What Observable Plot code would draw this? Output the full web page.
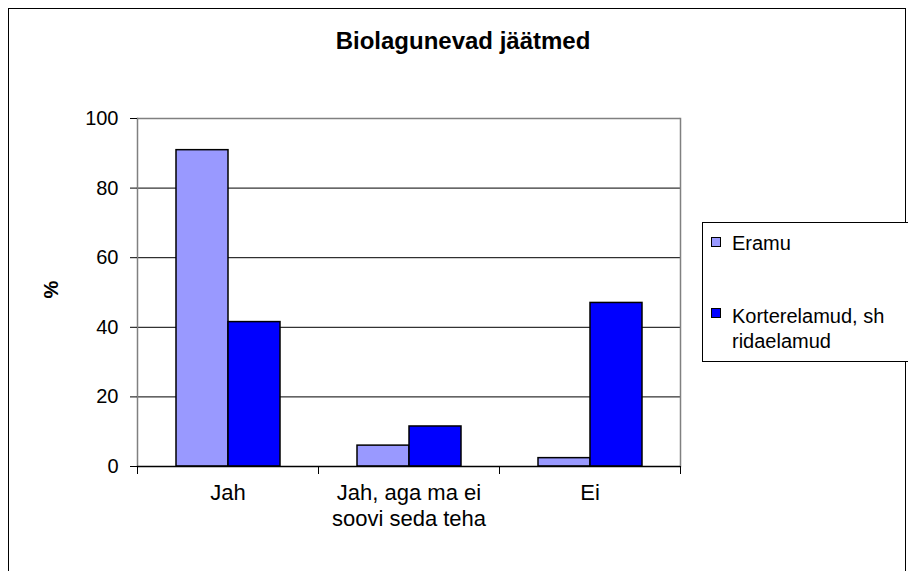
<!DOCTYPE html>
<html><head><meta charset="utf-8">
<script src="https://cdn.jsdelivr.net/npm/d3@7"></script>
<script src="https://cdn.jsdelivr.net/npm/@observablehq/plot@0.6"></script>
<style>
body{margin:0;background:#fff;font-family:"Liberation Sans",Arial,sans-serif;color:#000}
#wrap{position:relative;width:908px;height:571px;overflow:hidden;background:#fff}
#border{position:absolute;left:8px;top:8px;width:898px;height:600px;border:1px solid #000;box-sizing:border-box}
#title{position:absolute;left:463px;top:29px;transform:translateX(-50%);white-space:nowrap;font-weight:bold;font-size:24px;line-height:24px}
#chart{position:absolute;left:0;top:0}
#legend{position:absolute;left:702px;top:222px;width:230px;height:140px;border:1px solid #000;box-sizing:border-box;font-size:20px;background:#fff}
.sw{position:absolute;left:8px;width:10px;height:10px;border:1px solid #000;box-sizing:border-box}
.lt{position:absolute;left:29px;line-height:25px;white-space:nowrap}
</style>
</head><body>
<div id="wrap">
<div id="border"></div>
<div id="title">Biolagunevad jäätmed</div>
<div id="chart"></div>
<div id="legend"></div>
</div>
<script>
const categories = ["Jah", "Jah, aga ma ei soovi seda teha", "Ei"];
const categoryLabels = ["Jah", "Jah, aga ma ei\nsoovi seda teha", "Ei"];
const series = ["Eramu", "Korterelamud, sh ridaelamud"];
const seriesLabels = ["Eramu", "Korterelamud, sh<br>ridaelamud"];
const eramu = [90.9, 6.0, 2.4];
const korter = [41.5, 11.5, 47.0];
const yTicks = [0, 20, 40, 60, 80, 100];
const colors = ["#9999FF", "#0000FF"];

const data = categories.flatMap((c, i) => [
  {category: c, series: series[0], value: eramu[i]},
  {category: c, series: series[1], value: korter[i]}
]);

const chart = Plot.plot({
  width: 908, height: 571,
  marginLeft: 136, marginRight: 228, marginTop: 118, marginBottom: 105,
  style: {fontFamily: "Liberation Sans, Arial, sans-serif", fontSize: "20px", color: "#000", background: "transparent", overflow: "visible"},
  fx: {domain: categories, padding: 0, axis: null},
  x: {domain: series, paddingInner: 0, paddingOuter: 0.736, axis: null},
  y: {domain: [0, 100], axis: null},
  color: {domain: series, range: colors},
  marks: [
    Plot.ruleY(yTicks.slice(1, -1), {stroke: "#000", strokeOpacity: 1}),
    Plot.ruleY([100], {stroke: "#808080", strokeWidth: 1.5}),
    Plot.frame({anchor: "left", facetAnchor: "left", stroke: "#808080", strokeWidth: 1.5}),
    Plot.frame({anchor: "right", facetAnchor: "right", stroke: "#808080", strokeWidth: 1.5}),
    Plot.barY(data, {fx: "category", x: "series", y: "value", fill: "series", stroke: "#000", strokeWidth: 1.5}),
    Plot.ruleY([0], {stroke: "#000", strokeWidth: 1.5}),
    Plot.frame({anchor: "left", insetTop: 348, insetBottom: -7, stroke: "#000"}),
    Plot.frame({anchor: "right", facetAnchor: "right", insetTop: 348, insetBottom: -7, stroke: "#000"}),
    Plot.axisY({ticks: yTicks, tickSize: 7, tickPadding: 12, label: null, stroke: "#000", fill: "#000", fontSize: 20}),
    Plot.text(categories, {fx: d => d, text: (d, i) => categoryLabels[i], frameAnchor: "bottom", lineAnchor: "top", dy: 16, lineHeight: 1.15, fontSize: 22, fill: "#000"}),
    Plot.text(["%"], {fx: [categories[0]], frameAnchor: "left", rotate: -90, dx: -86, dy: 6, fontWeight: "bold", fontSize: 20, fill: "#000"})
  ]
});
document.getElementById("chart").appendChild(chart);

const legend = document.getElementById("legend");
const swTops = [14, 85];
const textTops = [8, 81];
series.forEach((s, i) => {
  const sw = document.createElement("div");
  sw.className = "sw";
  sw.style.top = swTops[i] + "px";
  sw.style.background = colors[i];
  legend.appendChild(sw);
  const t = document.createElement("div");
  t.className = "lt";
  t.style.top = textTops[i] + "px";
  t.innerHTML = seriesLabels[i];
  legend.appendChild(t);
});
</script>
</body></html>
